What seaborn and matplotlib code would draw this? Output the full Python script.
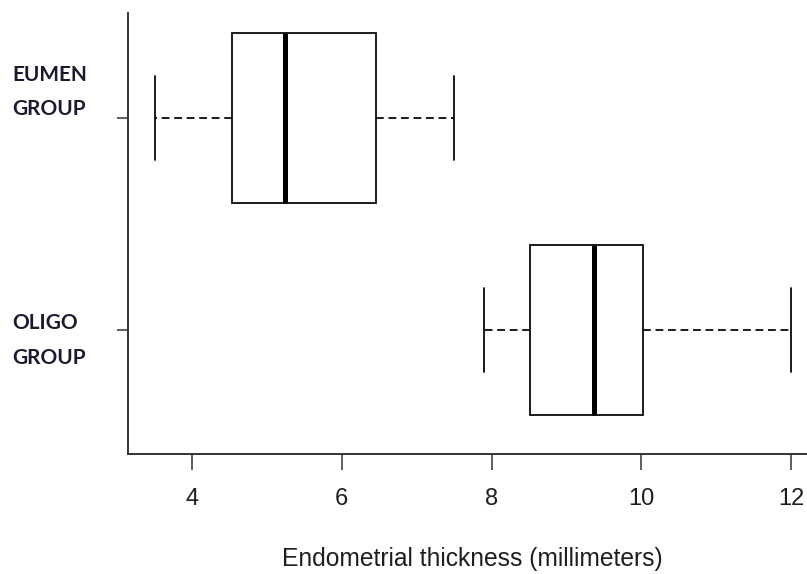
import matplotlib
matplotlib.use("Agg")
import matplotlib.pyplot as plt
import matplotlib.transforms as mtransforms
import pandas as pd
import seaborn as sns

# five-number summaries (min, Q1, median, Q3, max)
groups = ["EUMEN\nGROUP", "OLIGO\nGROUP"]
eumen_stats = [3.5, 4.53, 5.24, 6.46, 7.5]
oligo_stats = [7.9, 8.51, 9.36, 10.02, 12.0]
x_ticks = [4, 6, 8, 10, 12]

df = pd.DataFrame({
    "group": [groups[0]] * len(eumen_stats) + [groups[1]] * len(oligo_stats),
    "thickness": eumen_stats + oligo_stats,
})

sns.set_style("ticks")
plt.rcParams["font.family"] = ["Liberation Sans", "DejaVu Sans"]

fig = plt.figure(figsize=(8.07, 5.74), dpi=100)
ax = fig.add_axes([128 / 807, 120 / 574, 679 / 807, 441 / 574])

sns.boxplot(data=df, x="thickness", y="group", order=groups, orient="h", ax=ax,
            color="white", saturation=1, linecolor="black", linewidth=1.25,
            width=0.8, whis=(0, 100),
            medianprops={"linewidth": 3.6},
            whiskerprops={"linestyle": (0, (4.5, 2.7))})

ax.set_xlim(3.145, 12.21)
ax.set_ylim(1.585, -0.495)
ax.set_xticks(x_ticks)
ax.spines["top"].set_visible(False)
ax.spines["right"].set_visible(False)
for side in ["left", "bottom"]:
    ax.spines[side].set_color("#333333")
    ax.spines[side].set_linewidth(1.4)

ax.tick_params(axis="x", length=11.5, width=1.1, pad=13, labelsize=17,
               color="#333333", labelcolor="#1e1e1e")
ax.tick_params(axis="y", length=8, width=1.1, pad=75.5, color="#333333")
ax.set_xlabel("Endometrial thickness (millimeters)", fontsize=17.7,
              labelpad=26.5, color="#1e1e1e")
ax.xaxis.label.set_x(0.507)
ax.set_ylabel("")

# group names sit left-aligned, nudged off their ticks like the original
for lab, dy in zip(ax.get_yticklabels(), [35, -1.5]):
    lab.set_ha("left")
    lab.set_fontfamily(["Lato", "DejaVu Sans"])
    lab.set_fontweight("bold")
    lab.set_fontsize(15)
    lab.set_linespacing(1.88)
    lab.set_color("#1b1b30")
    lab.set_transform(lab.get_transform()
                      + mtransforms.ScaledTranslation(0, dy / 100, fig.dpi_scale_trans))

fig.savefig("out.png", dpi=100, facecolor="white")
